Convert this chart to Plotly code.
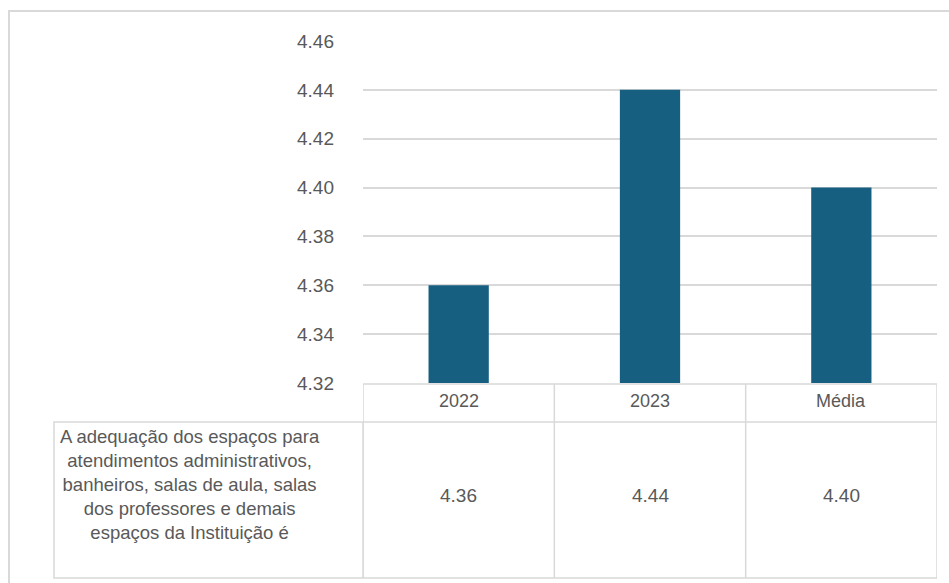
import plotly.graph_objects as go

categories = ["2022", "2023", "Média"]
values = [4.36, 4.44, 4.40]
value_labels = ["4.36", "4.44", "4.40"]
row_label = ("A adequação dos espaços para<br>atendimentos administrativos,<br>"
             "banheiros, salas de aula, salas<br>dos professores e demais<br>"
             "espaços da Instituição é")
tick_vals = [4.32, 4.34, 4.36, 4.38, 4.40, 4.42, 4.44, 4.46]
tick_text = ["4.32", "4.34", "4.36", "4.38", "4.40", "4.42", "4.44", "4.46"]

W, H = 949, 583
L, R, T, B = 363, 12, 41, 200
pw, ph = W - L - R, H - T - B

def px_x(px):
    return (px - L) / pw

def px_y(py):
    return (H - B - py) / ph

FONT = "Liberation Sans, Arial, sans-serif"
TXT = "#595959"
LINE = "#d9d9d9"

n = len(categories)
idx = list(range(n))

fig = go.Figure(go.Bar(
    x=idx, y=values, marker=dict(color="#175f80", line=dict(width=0)),
    width=0.315, hoverinfo="skip",
))

shapes = []
# outer border (top and left only visible)
shapes.append(dict(type="rect", xref="paper", yref="paper",
                   x0=px_x(9), x1=px_x(1000), y0=px_y(11), y1=px_y(640),
                   line=dict(color="#d9d9d9", width=2), layer="below"))
# table horizontal lines
y_head_top, y_head_bot, y_data_bot = px_y(384), px_y(422), px_y(578)
for yy in (y_head_top, y_head_bot, y_data_bot):
    shapes.append(dict(type="line", xref="x", yref="paper", x0=-0.5, x1=n - 0.5,
                       y0=yy, y1=yy, line=dict(color=LINE, width=1.5)))
# vertical column lines
for i in range(n + 1):
    shapes.append(dict(type="line", xref="x", yref="paper", x0=i - 0.5, x1=i - 0.5,
                       y0=y_head_top, y1=y_data_bot, line=dict(color=LINE, width=1.5)))
# label cell
shapes.append(dict(type="rect", xref="paper", yref="paper",
                   x0=px_x(54), x1=0, y0=y_data_bot, y1=y_head_bot,
                   line=dict(color=LINE, width=1.5)))

annotations = []
for i, c, v in zip(idx, categories, value_labels):
    annotations.append(dict(x=i, y=px_y(401), xref="x", yref="paper", text=c,
                            xanchor="center", yanchor="middle",
                            showarrow=False, font=dict(family=FONT, size=18, color=TXT)))
    annotations.append(dict(x=i, y=px_y(495), xref="x", yref="paper", text=v,
                            xanchor="center", yanchor="middle",
                            showarrow=False, font=dict(family=FONT, size=19, color=TXT)))
annotations.append(dict(x=px_x(190), y=px_y(484), xref="paper", yref="paper",
                        text=row_label, showarrow=False, align="center",
                        xanchor="center", yanchor="middle",
                        font=dict(family=FONT, size=18.5, color=TXT)))

fig.update_layout(
    width=W, height=H,
    margin=dict(l=L, r=R, t=T, b=B, autoexpand=False),
    paper_bgcolor="white", plot_bgcolor="white",
    showlegend=False,
    shapes=shapes, annotations=annotations,
    xaxis=dict(showticklabels=False, showgrid=False, zeroline=False, showline=False,
               range=[-0.5, n - 0.5]),
    yaxis=dict(range=[4.32, 4.46], tickvals=tick_vals, ticktext=tick_text,
               showgrid=True, gridcolor=LINE, gridwidth=1.5, zeroline=False,
               showline=False, ticks="", ticklabelstandoff=28,
               tickfont=dict(family=FONT, size=19, color=TXT)),
)

fig.write_html("out.html", config={"displayModeBar": False},
               post_script="document.body.style.margin='0';")
